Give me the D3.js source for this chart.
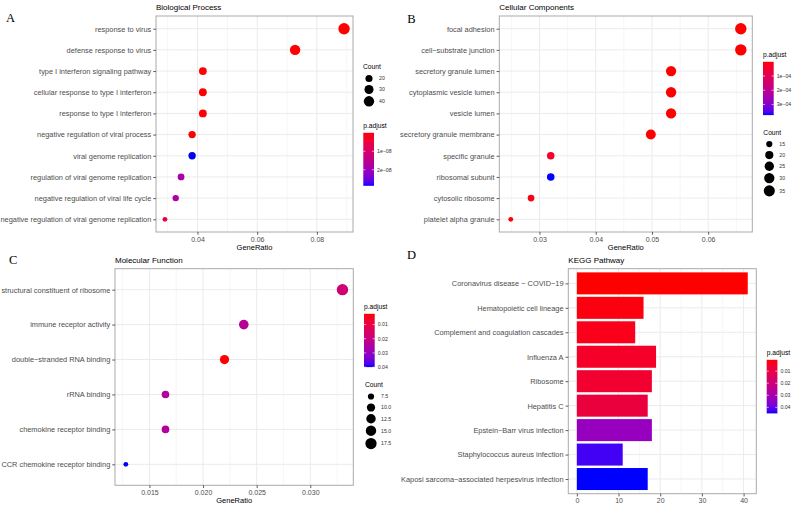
<!DOCTYPE html>
<html lang="en">
<head>
<meta charset="UTF-8">
<script src="https://cdn.jsdelivr.net/npm/d3@7"></script>
<title>Enrichment panels</title>
<style>
    body { margin: 0; background: #fff; }
    svg { font-family: "Liberation Sans", Arial, sans-serif; }
    .tick line { stroke: #333; stroke-width: 0.8px; }
    .tick text { fill: #4d4d4d; }
</style>
</head>
<body>
<svg id="chart" width="797" height="506"></svg>
<script>
// A - Biological Process
const bpTerms = ["response to virus", "defense response to virus", "type I interferon signaling pathway",
    "cellular response to type I interferon", "response to type I interferon", "negative regulation of viral process",
    "viral genome replication", "regulation of viral genome replication", "negative regulation of viral life cycle",
    "negative regulation of viral genome replication"];
const bpRatio = [0.0891, 0.0727, 0.0418, 0.0418, 0.0418, 0.0382, 0.0382, 0.0345, 0.0327, 0.0291];
const bpCount = [49, 40, 23, 23, 23, 21, 21, 19, 18, 16];
const bpPadj = [3e-13, 8e-12, 1.5e-10, 1.6e-10, 1.8e-10, 2.5e-10, 2.87e-8, 1.85e-8, 1.75e-8, 0.55e-8];
const bpTicks = [0.04, 0.06, 0.08];
const bpPadjTicks = [1e-8, 2e-8];
const bpCountBreaks = [20, 30, 40];

// B - Cellular Components
const ccTerms = ["focal adhesion", "cell−substrate junction", "secretory granule lumen", "cytoplasmic vesicle lumen",
    "vesicle lumen", "secretory granule membrane", "specific granule", "ribosomal subunit", "cytosolic ribosome",
    "platelet alpha granule"];
const ccRatio = [0.0658, 0.0658, 0.0534, 0.0534, 0.0534, 0.0498, 0.0320, 0.0320, 0.0285, 0.0249];
const ccCount = [37, 37, 30, 30, 30, 28, 18, 18, 16, 14];
const ccPadj = [1e-9, 1e-9, 2e-8, 2e-8, 2.2e-8, 4e-7, 3.5e-5, 3.75e-4, 1.5e-5, 8e-6];
const ccTicks = [0.03, 0.04, 0.05, 0.06];
const ccPadjTicks = [1e-4, 2e-4, 3e-4];
const ccCountBreaks = [15, 20, 25, 30, 35];

// C - Molecular Function
const mfTerms = ["structural constituent of ribosome", "immune receptor activity", "double−stranded RNA binding",
    "rRNA binding", "chemokine receptor binding", "CCR chemokine receptor binding"];
const mfRatio = [0.0330, 0.0238, 0.0220, 0.0165, 0.0165, 0.0128];
const mfCount = [18, 13, 12, 9, 9, 7];
const mfPadj = [0.0175, 0.0235, 0.0024, 0.0245, 0.0245, 0.0400];
const mfTicks = [0.015, 0.020, 0.025, 0.030];
const mfPadjTicks = [0.01, 0.02, 0.03, 0.04];
const mfCountBreaks = [7.5, 10, 12.5, 15, 17.5];

// D - KEGG Pathway
const keggTerms = ["Coronavirus disease − COVID−19", "Hematopoietic cell lineage", "Complement and coagulation cascades",
    "Influenza A", "Ribosome", "Hepatitis C", "Epstein−Barr virus infection", "Staphylococcus aureus infection",
    "Kaposi sarcoma−associated herpesvirus infection"];
const keggCount = [41, 16, 14, 19, 18, 17, 18, 11, 17];
const keggPadj = [0.0006, 0.0018, 0.0028, 0.0048, 0.0058, 0.0085, 0.0330, 0.0430, 0.0450];
const keggTicks = [0, 10, 20, 30, 40];
const keggPadjTicks = [0.01, 0.02, 0.03, 0.04];

const FONT = "'Liberation Sans', Arial, sans-serif";
const svg = d3.select("#chart");

// R style scientific labels, e.g. 1e-08
const sciFmt = v => {
    const [m, e] = v.toExponential(0).split("e");
    const n = +e;
    return m + "e" + (n < 0 ? "−" : "+") + String(Math.abs(n)).padStart(2, "0");
};

const colorScale = padj => d3.scaleLinear()
    .domain(d3.extent(padj))
    .range(["red", "blue"])
    .interpolate(d3.interpolateLab);

const sizeScale = count => {
    const t = d3.scaleLinear().domain(d3.extent(count)).range([0, 1]).clamp(true);
    const r = d3.scaleSqrt().domain([0, 1]).range([2.4, 5.7]);
    return c => r(t(c));
};

// Panel frame with grid, axes and title; returns scales
const drawFrame = (o) => {
    const [x0, y0, x1, y1] = o.box;
    const g = svg.append("g");
    const x = d3.scaleLinear().domain(o.xDomain).range([x0, x1]);
    const y = d3.scalePoint().domain(o.terms).range([y0, y1]).padding(0.6);

    const step = o.ticks[1] - o.ticks[0];
    const minor = o.ticks.map(t => t - step / 2).concat([o.ticks[o.ticks.length - 1] + step / 2])
        .filter(v => v > o.xDomain[0] && v < o.xDomain[1]);

    g.append("rect").attr("x", x0).attr("y", y0).attr("width", x1 - x0).attr("height", y1 - y0).attr("fill", "#fff");

    g.selectAll(".minor").data(minor).enter().append("line")
        .attr("x1", d => x(d)).attr("x2", d => x(d)).attr("y1", y0).attr("y2", y1)
        .attr("stroke", "#f0f0f0").attr("stroke-width", 0.6);
    g.selectAll(".vmajor").data(o.ticks).enter().append("line")
        .attr("x1", d => x(d)).attr("x2", d => x(d)).attr("y1", y0).attr("y2", y1)
        .attr("stroke", "#ebebeb").attr("stroke-width", 1);
    g.selectAll(".hmajor").data(o.terms).enter().append("line")
        .attr("x1", x0).attr("x2", x1).attr("y1", d => y(d)).attr("y2", d => y(d))
        .attr("stroke", "#ebebeb").attr("stroke-width", 1);

    const ya = svg.append("g").attr("transform", `translate(${x0},0)`)
        .call(d3.axisLeft(y).tickSize(2.75).tickPadding(2))
        .attr("font-family", FONT).attr("font-size", 7.4);
    ya.select(".domain").remove();

    const xa = svg.append("g").attr("transform", `translate(0,${y1})`)
        .call(d3.axisBottom(x).tickValues(o.ticks).tickFormat(o.fmt).tickSize(2.75).tickPadding(2))
        .attr("font-family", FONT).attr("font-size", 7);
    xa.select(".domain").remove();

    svg.append("text").attr("x", x0).attr("y", y0 - 6)
        .attr("font-size", 8).attr("fill", "#000").text(o.title);
    if (o.xTitle) {
        svg.append("text").attr("x", (x0 + x1) / 2).attr("y", y1 + 18)
            .attr("text-anchor", "middle").attr("font-size", 7.5).attr("fill", "#000").text(o.xTitle);
    }
    svg.append("text").attr("x", o.letter[1]).attr("y", o.letter[2])
        .attr("font-family", "'Liberation Serif', 'Times New Roman', serif")
        .attr("font-size", 12.5).attr("fill", "#000").text(o.letter[0]);

    return { x, y, g, border: () => g.append("rect").attr("x", x0).attr("y", y0)
        .attr("width", x1 - x0).attr("height", y1 - y0)
        .attr("fill", "none").attr("stroke", "#aaa").attr("stroke-width", 1) };
};

const colorLegend = (o) => {
    const color = colorScale(o.padj);
    const [lo, hi] = d3.extent(o.padj);
    const w = 10.7, h = o.height, top = o.y + 4.5;
    const id = "grad" + o.id;
    const grad = svg.append("defs").append("linearGradient").attr("id", id)
        .attr("x1", 0).attr("x2", 0).attr("y1", 0).attr("y2", 1);
    d3.range(0, 1.0001, 0.05).forEach(t => {
        grad.append("stop").attr("offset", t).attr("stop-color", color(lo + t * (hi - lo)));
    });
    svg.append("text").attr("x", o.x).attr("y", o.y).attr("font-size", 6.7).attr("fill", "#000").text("p.adjust");
    svg.append("rect").attr("x", o.x).attr("y", top).attr("width", w).attr("height", h).attr("fill", `url(#${id})`);
    const ty = d3.scaleLinear().domain([lo, hi]).range([top, top + h]);
    o.ticks.forEach(v => {
        const yy = ty(v);
        svg.append("line").attr("x1", o.x).attr("x2", o.x + w / 5).attr("y1", yy).attr("y2", yy)
            .attr("stroke", "#fff").attr("stroke-width", 0.6);
        svg.append("line").attr("x1", o.x + w - w / 5).attr("x2", o.x + w).attr("y1", yy).attr("y2", yy)
            .attr("stroke", "#fff").attr("stroke-width", 0.6);
        svg.append("text").attr("x", o.x + w + 3).attr("y", yy).attr("dy", "0.35em")
            .attr("font-size", 5.2).attr("fill", "#333").text(o.fmt(v));
    });
};

const sizeLegend = (o) => {
    svg.append("text").attr("x", o.x).attr("y", o.y).attr("font-size", 6.7).attr("fill", "#000").text("Count");
    const hs = o.breaks.map(b => Math.max(11, 2 * o.r(b) + 2));
    let cy = o.y + 4 + hs[0] / 2;
    o.breaks.forEach((b, i) => {
        if (i > 0) cy += (hs[i - 1] + hs[i]) / 2;
        svg.append("circle").attr("cx", o.x + 6).attr("cy", cy).attr("r", o.r(b)).attr("fill", "#000");
        svg.append("text").attr("x", o.x + 16).attr("y", cy).attr("dy", "0.35em")
            .attr("font-size", 5.2).attr("fill", "#333").text(o.fmt(b));
    });
};

const padDomain = v => {
    const [lo, hi] = d3.extent(v);
    const p = (hi - lo) * 0.05;
    return [lo - p, hi + p];
};

const dotPanel = (o) => {
    const f = drawFrame({ ...o, xDomain: padDomain(o.ratio), xTitle: "GeneRatio" });
    const color = colorScale(o.padj);
    const r = sizeScale(o.count);
    f.g.selectAll("circle").data(o.terms).enter().append("circle")
        .attr("cx", (d, i) => f.x(o.ratio[i]))
        .attr("cy", d => f.y(d))
        .attr("r", (d, i) => r(o.count[i]))
        .attr("fill", (d, i) => color(o.padj[i]));
    f.border();
    return r;
};

// A
const rBP = dotPanel({ box: [156, 16, 353, 232], terms: bpTerms, ratio: bpRatio, count: bpCount, padj: bpPadj,
    ticks: bpTicks, fmt: d3.format(".2f"), title: "Biological Process", letter: ["A", 6, 21.7] });
sizeLegend({ x: 363, y: 69, breaks: bpCountBreaks, r: rBP, fmt: d3.format("d") });
colorLegend({ id: "A", x: 363.3, y: 128.3, height: 53, padj: bpPadj, ticks: bpPadjTicks, fmt: sciFmt });

// B
const rCC = dotPanel({ box: [499.3, 16, 752.3, 232], terms: ccTerms, ratio: ccRatio, count: ccCount, padj: ccPadj,
    ticks: ccTicks, fmt: d3.format(".2f"), title: "Cellular Components", letter: ["B", 407.3, 23.3] });
colorLegend({ id: "B", x: 763, y: 57.3, height: 53.3, padj: ccPadj, ticks: ccPadjTicks, fmt: sciFmt });
sizeLegend({ x: 763.3, y: 134.6, breaks: ccCountBreaks, r: rCC, fmt: d3.format("d") });

// C
const rMF = dotPanel({ box: [115, 268.7, 353.3, 485.3], terms: mfTerms, ratio: mfRatio, count: mfCount, padj: mfPadj,
    ticks: mfTicks, fmt: d3.format(".3f"), title: "Molecular Function", letter: ["C", 9, 263.5] });
colorLegend({ id: "C", x: 364, y: 309.3, height: 53.3, padj: mfPadj, ticks: mfPadjTicks, fmt: d3.format(".2f") });
sizeLegend({ x: 365, y: 387, breaks: mfCountBreaks, r: rMF, fmt: d3.format(".1f") });

// D
const keggMax = d3.max(keggCount);
const fD = drawFrame({ box: [568.3, 268.7, 756.3, 493.7], terms: keggTerms, xDomain: [-0.05 * keggMax, 1.05 * keggMax],
    ticks: keggTicks, fmt: d3.format("d"), title: "KEGG Pathway", letter: ["D", 407, 258.5] });
const keggColor = colorScale(keggPadj);
const barH = fD.y.step() * 0.9;
fD.g.selectAll(".bar").data(keggTerms).enter().append("rect")
    .attr("x", fD.x(0))
    .attr("y", d => fD.y(d) - barH / 2)
    .attr("width", (d, i) => fD.x(keggCount[i]) - fD.x(0))
    .attr("height", barH)
    .attr("fill", (d, i) => keggColor(keggPadj[i]));
fD.border();
colorLegend({ id: "D", x: 766.7, y: 355.3, height: 53.6, padj: keggPadj, ticks: keggPadjTicks, fmt: d3.format(".2f") });
</script>
</body>
</html>
